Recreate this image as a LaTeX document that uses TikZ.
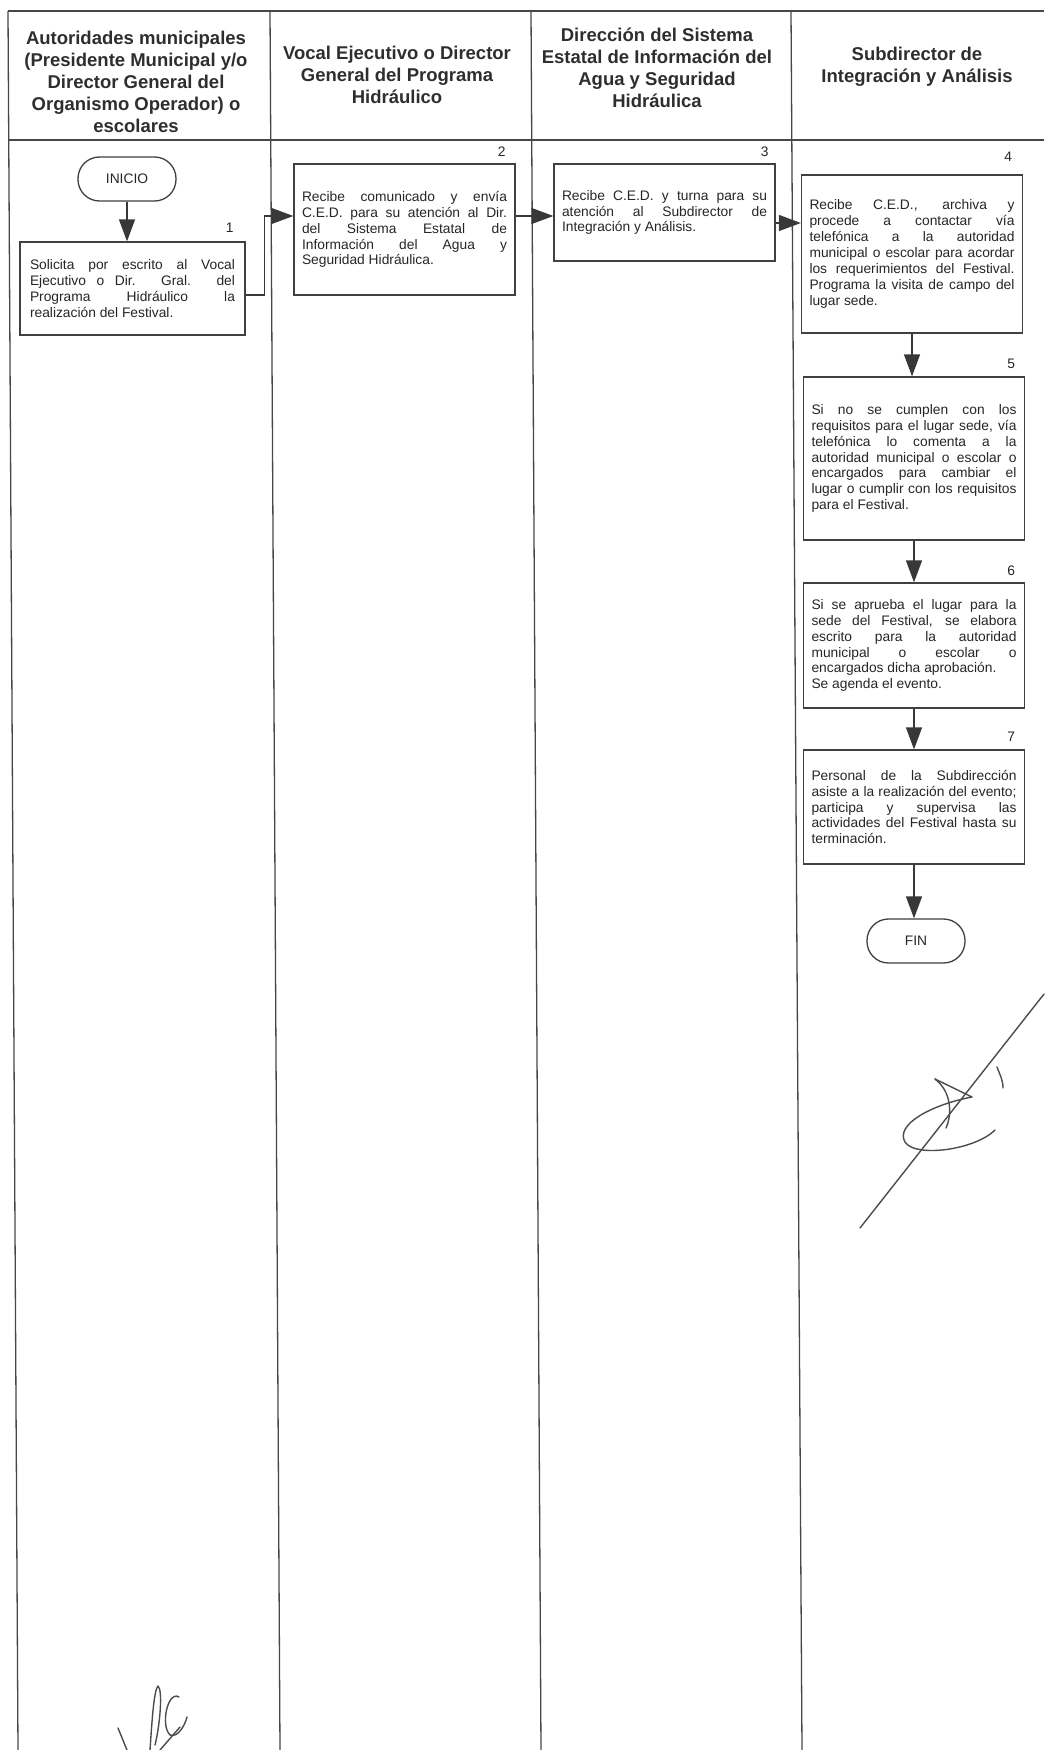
\documentclass[tikz,border=0pt]{standalone}
\usepackage{fontspec}
\setmainfont{Liberation Sans}
\usetikzlibrary{arrows.meta}
\setlength{\parindent}{0pt}
\tolerance=10000
\hbadness=10000
\hyphenpenalty=10000
\exhyphenpenalty=10000
\begin{document}
\begin{tikzpicture}[x=1pt,y=-1pt,
  lane/.style={draw=black!72, line width=1.3pt},
  hdr/.style={font=\fontsize{18.5}{22}\selectfont\bfseries, text=black!82, align=center, inner sep=0pt},
  box/.style={draw=black!75, line width=1.3pt, text width=205pt, inner xsep=8pt, inner ysep=0pt, align=justify, font=\fontsize{13.8}{15.9}\selectfont, text=black!85},
  term/.style={draw=black!75, line width=1.3pt, rounded corners=21.5pt, minimum width=98pt, minimum height=44pt, inner sep=0pt, font=\fontsize{13.8}{16}\selectfont, text=black!85},
  num/.style={font=\fontsize{13.8}{16}\selectfont, text=black!85, inner sep=0pt},
  arr/.style={draw=black!78, line width=1.3pt, -{Triangle[length=22pt,width=16pt]}},
  sig/.style={draw=black!70, line width=1.4pt, line cap=round, line join=round}
]
\useasboundingbox (0,0) rectangle (1044,1750);
\fill[white] (0,0) rectangle (1044,1750);

% table frame
\draw[lane] (8,11) -- (1044,11);
\draw[lane] (8,140) -- (1044,140);
\draw[lane] (8,11) -- (18,1750);
\draw[lane] (270,11) -- (280,1750);
\draw[lane] (531,11) -- (541,1750);
\draw[lane] (791,11) -- (802,1750);

% headers
\node[hdr] (h1) at (136,82) {Autoridades municipales\\(Presidente Municipal y/o\\Director General del\\Organismo Operador) o\\escolares};
\node[hdr] (h2) at (397,75) {Vocal Ejecutivo o Director\\General del Programa\\Hidráulico};
\node[hdr] (h3) at (657,68) {Dirección del Sistema\\Estatal de Información del\\Agua y Seguridad\\Hidráulica};
\node[hdr] (h4) at (917,67) {Subdirector de\\Integración y Análisis};

% flow nodes
\node[term] (inicio) at (127,179) {INICIO};
\node[box, inner xsep=10pt, minimum height=93pt] (b1) at (132.5,288.5)
 {Solicita por escrito al Vocal\linebreak Ejecutivo o Dir. Gral. del\linebreak Programa Hidráulico la\linebreak realización del Festival.};
\node[box, minimum height=131pt] (b2) at (404.5,229.5)
 {Recibe comunicado y envía\linebreak C.E.D. para su atención al Dir.\linebreak del Sistema Estatal de\linebreak Información del Agua y\linebreak Seguridad Hidráulica.};
\node[box, minimum height=97pt] (b3) at (664.5,212.5)
 {Recibe C.E.D. y turna para su\linebreak atención al Subdirector de\linebreak Integración y Análisis.};
\node[box, minimum height=158pt] (b4) at (912,254)
 {Recibe C.E.D., archiva y\linebreak procede a contactar vía\linebreak telefónica a la autoridad\linebreak municipal o escolar para acordar\linebreak los requerimientos del Festival.\linebreak Programa la visita de campo del\linebreak lugar sede.};
\node[box, minimum height=163pt] (b5) at (914,458.5)
 {Si no se cumplen con los\linebreak requisitos para el lugar sede, vía\linebreak telefónica lo comenta a la\linebreak autoridad municipal o escolar o\linebreak encargados para cambiar el\linebreak lugar o cumplir con los requisitos\linebreak para el Festival.};
\node[box, minimum height=125pt] (b6) at (914,645.5)
 {Si se aprueba el lugar para la\linebreak sede del Festival, se elabora\linebreak escrito para la autoridad\linebreak municipal o escolar o\linebreak encargados dicha aprobación.\par Se agenda el evento.};
\node[box, minimum height=114pt] (b7) at (914,807)
 {Personal de la Subdirección\linebreak asiste a la realización del evento;\linebreak participa y supervisa las\linebreak actividades del Festival hasta su\linebreak terminación.};
\node[term] (fin) at (916,941) {FIN};

% step numbers
\node[num] (n1) at ([shift={(-16,-14)}]b1.north east) {1};
\node[num] (n2) at ([shift={(-14,-12)}]b2.north east) {2};
\node[num] (n3) at ([shift={(-11,-12)}]b3.north east) {3};
\node[num] (n4) at ([shift={(-15,-18)}]b4.north east) {4};
\node[num] (n5) at ([shift={(-14,-13)}]b5.north east) {5};
\node[num] (n6) at ([shift={(-14,-12)}]b6.north east) {6};
\node[num] (n7) at ([shift={(-14,-13)}]b7.north east) {7};

% connectors
\draw[arr] (inicio.south) -- (inicio.south |- b1.north);
\draw[arr] ([yshift=-6.5pt]b1.east) -- ++(19,0) |- ([yshift=13.5pt]b2.west);
\draw[arr] ([yshift=13.5pt]b2.east) -- ([yshift=-3.5pt]b3.west);
\draw[arr] ([yshift=-10.5pt]b3.east) -- ([yshift=31pt]b4.west);
\draw[arr] (b4.south) -- (b4.south |- b5.north);
\draw[arr] (b5.south) -- (b5.south |- b6.north);
\draw[arr] (b6.south) -- (b6.south |- b7.north);
\draw[arr] (b7.south) -- (b7.south |- fin.north);

% signatures
\draw[sig] (1044,994) -- (860,1228);
\draw[sig] (997,1067) .. controls (1000,1075) and (1003,1080) .. (1003,1088);
\draw[sig] (935,1079) -- (972,1097) .. controls (930,1105) and (895,1125) .. (905,1142) .. controls (915,1158) and (975,1150) .. (995,1130);
\draw[sig] (935,1079) .. controls (952,1092) and (952,1115) .. (946,1128);
\draw[sig] (118,1728) -- (127,1750);
\draw[sig] (150,1750) .. controls (152,1720) and (154,1690) .. (158,1686) .. controls (163,1690) and (160,1725) .. (155,1745);
\draw[sig] (179,1697) .. controls (168,1690) and (160,1725) .. (170,1735) .. controls (178,1738) and (185,1725) .. (187,1717);
\draw[sig] (180,1727) -- (160,1750);
\end{tikzpicture}
\end{document}
